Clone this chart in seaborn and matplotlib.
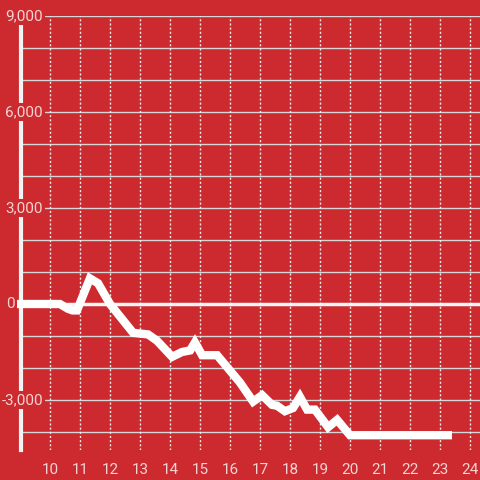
import numpy as np
import pandas as pd
import matplotlib
matplotlib.use("Agg")
import matplotlib.pyplot as plt
import seaborn as sns

# series
x_vals = [8.88, 10.33, 10.6, 10.75, 10.9, 11.05, 11.33, 11.6, 12.0, 12.77, 13.27,
          13.57, 14.07, 14.4, 14.67, 14.83, 15.07, 15.57, 16.33, 16.77, 17.07,
          17.4, 17.57, 17.83, 18.1, 18.33, 18.57, 18.83, 19.27, 19.57, 20.0, 23.4]
y_vals = [0, 0, -150, -200, -200, 150, 800, 650, 0, -900, -950,
          -1150, -1650, -1500, -1450, -1200, -1600, -1600, -2450, -3050, -2850,
          -3150, -3180, -3350, -3250, -2900, -3300, -3300, -3850, -3620, -4100, -4100]
x_ticks = list(range(10, 25))
y_ticks = [-3000, 0, 3000, 6000, 9000]

BG = "#cc2a2f"
TXT = "#f3d3d3"

df = pd.DataFrame({"x": x_vals, "y": y_vals})

sns.set_style("white")
plt.rcParams["font.family"] = ["Roboto", "DejaVu Sans"]

fig = plt.figure(figsize=(4.8, 4.8), dpi=100, facecolor=BG)
ax = fig.add_axes([21 / 480, 30 / 480, 459 / 480, 434 / 480])
ax.set_facecolor(BG)

ax.set_xlim(9.033, 24.333)
ax.set_ylim(-4562, 9000)

# grid
for v in range(-4000, 9001, 1000):
    if v != 0:
        ax.axhline(v, color="#d6d6d6", lw=1, zorder=1)
for v in x_ticks:
    ax.axvline(v, color="#ececec", lw=1, ls=(0, (1.5, 1.5)), zorder=1)
ax.axhline(0, color="#f4f4f4", lw=2.5, zorder=2)

sns.lineplot(data=df, x="x", y="y", ax=ax, color="white", lw=6,
             solid_joinstyle="miter", solid_capstyle="butt", zorder=3,
             clip_on=False)

for s in ["top", "right", "bottom"]:
    ax.spines[s].set_visible(False)
ax.spines["left"].set_color("#f4f4f4")
ax.spines["left"].set_linewidth(3)
ax.spines["left"].set_zorder(2.5)

ax.set_xticks(x_ticks)
ax.set_xticklabels([str(t) for t in x_ticks])
ax.tick_params(axis="x", length=0, pad=9, labelsize=11, labelcolor=TXT)
ax.set_yticks([])
trans = ax.get_yaxis_transform()
for v in y_ticks:
    xpos = -0.013 if v == 0 else 0.048
    ax.text(xpos, v, f"{v:,}", transform=trans, ha="right", va="center",
            fontsize=11, color=TXT, zorder=5, clip_on=False,
            bbox=dict(facecolor=BG, edgecolor="none", pad=1.5))
ax.set_xlabel("")
ax.set_ylabel("")

fig.savefig("out.png", dpi=100, facecolor=BG)
